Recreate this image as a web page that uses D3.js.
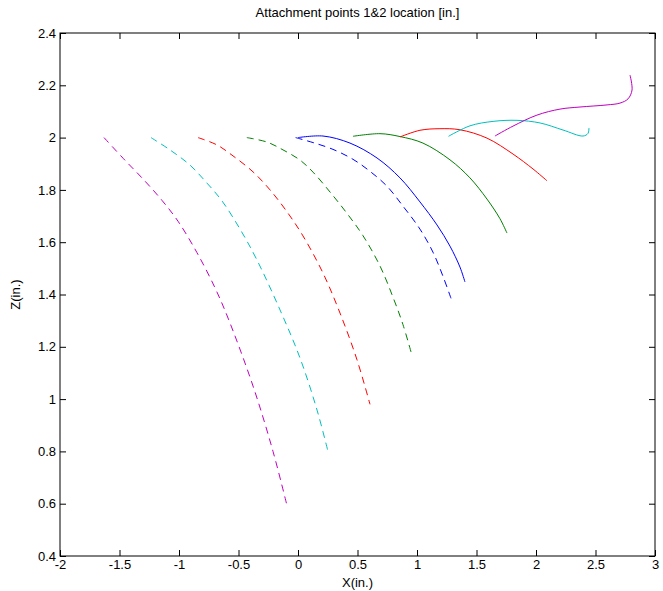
<!DOCTYPE html>
<html>
<head>
<meta charset="utf-8">
<script src="https://cdn.jsdelivr.net/npm/d3@7"></script>
<style>
  body { margin: 0; background: #fff; }
  text { font-family: "Liberation Sans", Arial, sans-serif; fill: #000; }
  .axis text { font-size: 13px; }
  .axis line { stroke: #000; }
</style>
</head>
<body>
<div id="chart"></div>
<script>
// tick values
var xTicks = [-2, -1.5, -1, -0.5, 0, 0.5, 1, 1.5, 2, 2.5, 3];
var zTicks = [0.4, 0.6, 0.8, 1, 1.2, 1.4, 1.6, 1.8, 2, 2.2, 2.4];

// dashed traces, [x, z]
var dashMagenta = [[-1.63, 2.0], [-1.47, 1.921], [-1.303, 1.842], [-1.143, 1.76], [-1.008, 1.68],
  [-0.849, 1.56], [-0.697, 1.425], [-0.588, 1.31], [-0.378, 1.05], [-0.21, 0.8], [-0.092, 0.592]];
var dashCyan = [[-1.235, 2.0], [-1.076, 1.953], [-0.908, 1.895], [-0.765, 1.826], [-0.639, 1.758],
  [-0.487, 1.65], [-0.345, 1.532], [-0.151, 1.341], [0.017, 1.157], [0.16, 0.958], [0.252, 0.8]];
var dashRed = [[-0.84, 2.0], [-0.681, 1.972], [-0.546, 1.93], [-0.378, 1.869], [-0.235, 1.8],
  [-0.092, 1.716], [0.042, 1.624], [0.21, 1.482], [0.353, 1.329], [0.496, 1.15], [0.605, 0.98]];
var dashGreen = [[-0.43, 2.0], [-0.261, 1.983], [-0.126, 1.953], [0.017, 1.914], [0.126, 1.868],
  [0.269, 1.792], [0.412, 1.71], [0.546, 1.625], [0.689, 1.509], [0.798, 1.39], [0.882, 1.285], [0.95, 1.18]];
var dashBlue = [[-0.02, 2.0], [0.126, 1.981], [0.294, 1.955], [0.462, 1.917], [0.605, 1.871],
  [0.748, 1.814], [0.882, 1.738], [1.025, 1.65], [1.134, 1.562], [1.218, 1.47], [1.286, 1.385]];

// solid traces, [x, z]
var solidBlue = [[0, 2.0], [0.21, 2.006], [0.437, 1.979], [0.664, 1.922], [0.857, 1.846],
  [1.025, 1.754], [1.168, 1.666], [1.277, 1.585], [1.361, 1.505], [1.403, 1.448]];
var solidGreen = [[0.462, 2.005], [0.689, 2.015], [0.857, 2.004], [1.05, 1.979], [1.277, 1.915],
  [1.445, 1.846], [1.588, 1.765], [1.697, 1.69], [1.756, 1.635]];
var solidRed = [[0.86, 2.003], [1.025, 2.028], [1.193, 2.034], [1.361, 2.03], [1.588, 1.998],
  [1.807, 1.937], [1.975, 1.88], [2.092, 1.835]];
var solidCyan = [[1.265, 2.005], [1.445, 2.045], [1.639, 2.062], [1.84, 2.066], [2.034, 2.056],
  [2.227, 2.029], [2.395, 2.006], [2.437, 2.016], [2.445, 2.037]];
var solidMagenta = [[1.655, 2.006], [1.807, 2.044], [2.008, 2.086], [2.202, 2.109], [2.37, 2.117],
  [2.597, 2.125], [2.706, 2.132], [2.773, 2.148], [2.807, 2.182], [2.79, 2.239]];

var series = [
  { d: dashMagenta, c: '#bf00bf', dash: true },
  { d: dashCyan, c: '#00bfbf', dash: true },
  { d: dashRed, c: '#ff0000', dash: true },
  { d: dashGreen, c: '#008000', dash: true },
  { d: dashBlue, c: '#0000ff', dash: true },
  { d: solidBlue, c: '#0000ff', dash: false },
  { d: solidGreen, c: '#008000', dash: false },
  { d: solidRed, c: '#ff0000', dash: false },
  { d: solidCyan, c: '#00bfbf', dash: false },
  { d: solidMagenta, c: '#bf00bf', dash: false }
];

var width = 663, height = 591;
var margin = { left: 60, right: 8, top: 33, bottom: 35 };
var w = width - margin.left - margin.right;
var h = height - margin.top - margin.bottom;

var svg = d3.select('#chart').append('svg')
    .attr('width', width)
    .attr('height', height);

var g = svg.append('g')
    .attr('transform', 'translate(' + margin.left + ',' + margin.top + ')');

var x = d3.scaleLinear().domain([-2, 3]).range([0, w]);
var y = d3.scaleLinear().domain([0.4, 2.4]).range([h, 0]);

var fmt = function(v) { return String(+v.toFixed(2)); };
var tick = 6;

// inward ticks on all four sides, labels only bottom and left
g.append('g').attr('class', 'axis')
    .attr('transform', 'translate(0,' + h + ')')
    .call(d3.axisBottom(x).tickValues(xTicks).tickFormat(fmt).tickSizeInner(-tick).tickSizeOuter(0).tickPadding(4))
    .call(function(a) { a.select('.domain').remove(); });
g.append('g').attr('class', 'axis')
    .call(d3.axisTop(x).tickValues(xTicks).tickFormat('').tickSizeInner(-tick).tickSizeOuter(0))
    .call(function(a) { a.select('.domain').remove(); });
g.append('g').attr('class', 'axis')
    .call(d3.axisLeft(y).tickValues(zTicks).tickFormat(fmt).tickSizeInner(-tick).tickSizeOuter(0).tickPadding(4))
    .call(function(a) { a.select('.domain').remove(); });
g.append('g').attr('class', 'axis')
    .attr('transform', 'translate(' + w + ',0)')
    .call(d3.axisRight(y).tickValues(zTicks).tickFormat('').tickSizeInner(-tick).tickSizeOuter(0))
    .call(function(a) { a.select('.domain').remove(); });

g.append('rect')
    .attr('width', w).attr('height', h)
    .attr('fill', 'none').attr('stroke', '#000');

var line = d3.line()
    .x(function(d) { return x(d[0]); })
    .y(function(d) { return y(d[1]); })
    .curve(d3.curveCatmullRom);

g.selectAll('.trace')
    .data(series).enter()
  .append('path')
    .attr('class', 'trace')
    .attr('d', function(s) { return line(s.d); })
    .attr('fill', 'none')
    .attr('stroke', function(s) { return s.c; })
    .attr('stroke-width', 1)
    .attr('stroke-dasharray', function(s) { return s.dash ? '7,5' : null; });

// title and labels
g.append('text')
    .attr('x', w / 2).attr('y', -16)
    .attr('text-anchor', 'middle')
    .style('font-size', '13px')
    .text('Attachment points 1&2 location [in.]');
g.append('text')
    .attr('x', w / 2).attr('y', h + 31)
    .attr('text-anchor', 'middle')
    .style('font-size', '13px')
    .text('X(in.)');
g.append('text')
    .attr('transform', 'translate(' + (-40) + ',' + (h / 2) + ') rotate(-90)')
    .attr('text-anchor', 'middle')
    .style('font-size', '13px')
    .text('Z(in.)');
</script>
</body>
</html>
